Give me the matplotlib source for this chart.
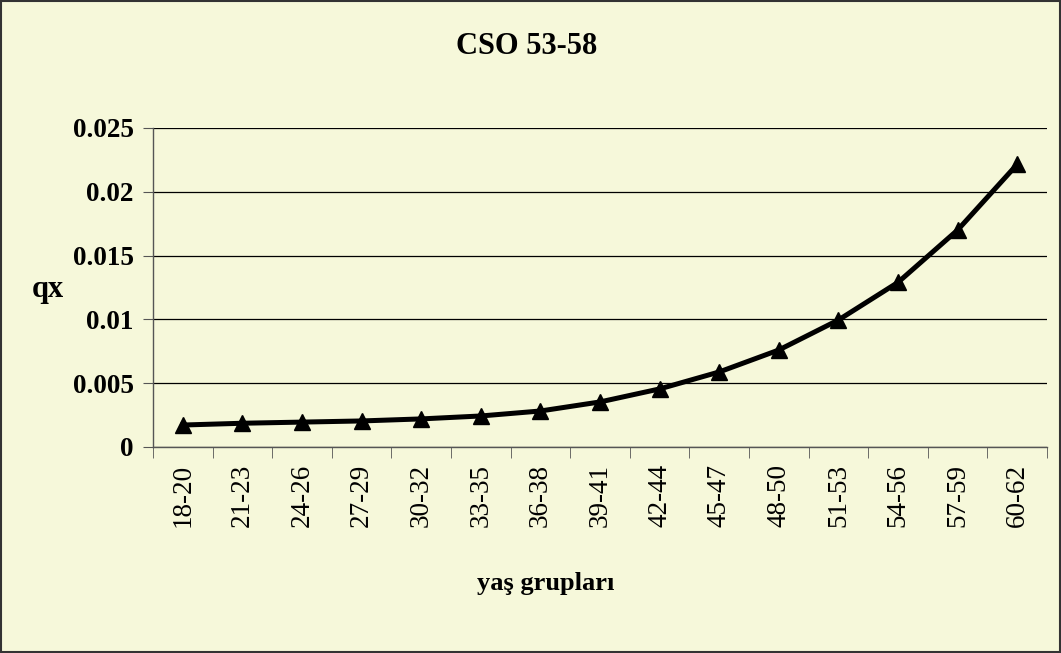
import numpy as np
import matplotlib.pyplot as plt
from matplotlib.patches import Rectangle

groups = ["18-20", "21-23", "24-26", "27-29", "30-32", "33-35", "36-38", "39-41",
          "42-44", "45-47", "48-50", "51-53", "54-56", "57-59", "60-62"]
qx = [0.00172, 0.00186, 0.00195, 0.00204, 0.00220, 0.00243, 0.00282, 0.00353,
      0.00455, 0.00588, 0.00760, 0.00995, 0.01290, 0.01700, 0.02215]

bg = "#F6F8DA"
plt.rcParams['font.family'] = ['Liberation Serif', 'DejaVu Serif']

fig = plt.figure(figsize=(10.61, 6.53), dpi=100, facecolor=bg)
ax = fig.add_axes([0.1442, 0.3155, 0.8426, 0.4885])
ax.set_facecolor(bg)

x = np.arange(len(groups))
ax.plot(x, qx, color="black", lw=3.6, marker="^", ms=12, mfc="black", mec="black",
        solid_joinstyle="round", zorder=3)

ax.set_xlim(-0.5, len(groups) - 0.5)
ax.set_ylim(0, 0.025)
ax.set_yticks([0, 0.005, 0.01, 0.015, 0.02, 0.025])
ax.set_yticklabels(["0", "0.005", "0.01", "0.015", "0.02", "0.025"],
                   fontsize=19.5, fontweight="bold")
ax.set_xticks(x)
ax.set_xticklabels(groups, rotation=90, fontsize=19.5)
ax.set_xticks(np.arange(-0.5, len(groups)), minor=True)
ax.tick_params(axis="x", which="major", length=0, pad=12)
ax.tick_params(axis="x", which="minor", length=8, color="#555555")
ax.tick_params(axis="y", length=7, color="#555555", pad=7)

ax.yaxis.grid(True, color="black", lw=0.9)
ax.set_axisbelow(True)
for s in ["top", "right"]:
    ax.spines[s].set_visible(False)
for s in ["left", "bottom"]:
    ax.spines[s].set_color("#555555")
    ax.spines[s].set_linewidth(1.0)

fig.text(0.496, 0.929, "CSO 53-58", ha="center", va="center",
         fontsize=22, fontweight="bold")
fig.text(0.0448, 0.556, "qx", ha="center", va="center", fontsize=22, fontweight="bold")
fig.text(0.514, 0.107, "yaş grupları", ha="center", va="center",
         fontsize=19, fontweight="bold")

fig.patches.append(Rectangle((0.001, 0.001), 0.998, 0.997, transform=fig.transFigure,
                             fill=False, edgecolor="#333333", lw=1.5))

fig.savefig("out.png", dpi=100, facecolor=bg)
